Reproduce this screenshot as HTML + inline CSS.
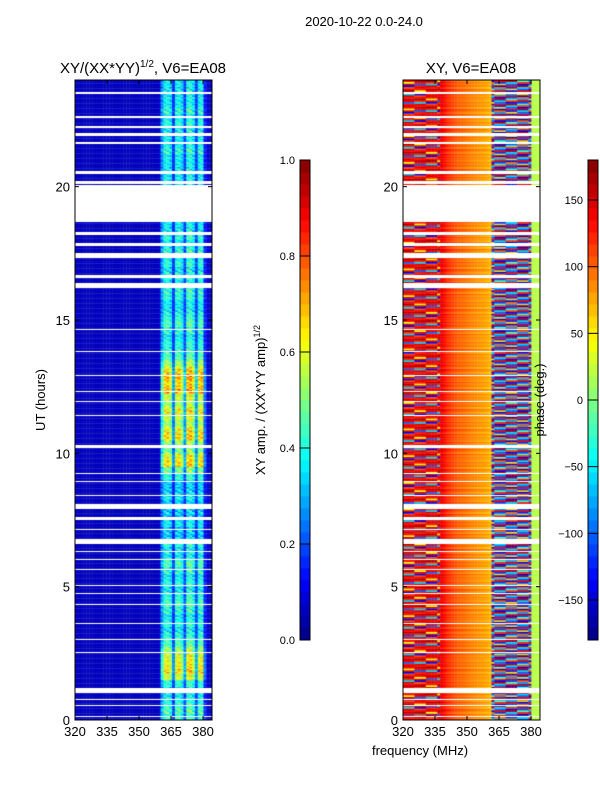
<!DOCTYPE html>
<html><head><meta charset="utf-8"><style>
body{margin:0;background:#fff;width:600px;height:800px;overflow:hidden;font-family:"Liberation Sans",sans-serif}
#wrap{position:relative;width:600px;height:800px}
canvas{position:absolute}
svg{position:absolute;left:0;top:0}
</style></head><body><div id="wrap">
<canvas id="amp" width="137" height="640" style="left:75px;top:80px"></canvas>
<canvas id="phs" width="137" height="640" style="left:403px;top:80px"></canvas>
<canvas id="cb1" width="10" height="480" style="left:300px;top:160px"></canvas>
<canvas id="cb2" width="10" height="480" style="left:588px;top:160px"></canvas>
<svg id="ov" width="600" height="800" font-family="Liberation Sans, sans-serif"></svg>
</div>
<script>
// ---- data ----
const freqMin=320, freqMax=384.2, nChan=48, hourMax=24, nRows=96;
const ampCol=[0.06,0.06,0.06,0.06,0.06,0.06,0.06,0.06,0.06,0.06,0.06,0.06,0.06,0.06,0.06,0.06,0.06,0.06,0.06,0.06,0.06,0.06,0.06,0.06,0.06,0.06,0.06,0.06,0.06,0.07,0.28,0.4,0.42,0.36,0.18,0.4,0.42,0.36,0.2,0.42,0.44,0.38,0.2,0.4,0.42,0.16,0.08,0.06];
// per 15-min row multiplier (96 rows, 0h upward)
const ampRow=[1.0,1.1,1.0,0.9,0.9,1.0,1.4,1.55,1.5,1.45,1.3,1.1,1.0,0.9,1.0,0.9,1.0,1.1,1.0,0.9,1.0,0.9,1.0,1.1,0.9,0.9,1.0,0.8,0.8,0.9,0.8,0.8,0.8,0.9,0.8,0.8,1.0,1.2,1.6,1.5,1.2,1.3,1.6,1.5,1.3,1.4,1.5,1.3,1.4,1.7,1.6,1.7,1.55,1.3,1.1,1.0,1.0,0.9,1.0,1.1,1.0,0.9,0.9,1.0,1.0,0.9,1.0,0.9,1.0,0.9,1.0,0.9,1.0,0.9,0.9,1.0,0.9,1.0,0.9,0.9,0.9,0.9,0.9,0.9,0.9,1.0,0.9,0.9,0.9,1.0,0.9,1.0,0.9,0.9,0.9,0.9];
const rowJitter=[0,0.12,-0.1,0.18,-0.15,0.05,0.22,-0.2,0.1,-0.05,0.15,-0.12];
const phaseCol=[0,0,0,0,0,0,0,0,0,0,0,0,0,140,130,120,115,110,105,100,98,95,92,90,88,85,82,80,78,75,70,0,0,0,0,0,0,0,0,0,0,0,0,0,0,20,20,20];
const phaseLeft=[150,130,-100,140,160,130,150,-60,120,170,140,110,-140,150,40,130];
const phaseRight=[-120,140,-100,-60,160,-140,120,-20,-110,150,-80,100,-150,60];
const flags=[[23.5,23.56],[22.6,22.66],[22.2,22.26],[21.9,22.0],[21.6,21.66],[20.5,20.6],[20.1,20.2],[18.65,20.05],[18.2,18.3],[17.8,17.9],[17.3,17.5],[16.6,16.7],[16.2,16.4],[14.6,14.65],[13.8,13.85],[12.9,12.95],[12.3,12.35],[11.9,11.95],[11.4,11.45],[10.2,10.3],[9.2,9.25],[8.9,8.95],[8.4,8.45],[7.9,8.1],[7.5,7.6],[7.1,7.15],[6.6,6.8],[6.3,6.35],[6.0,6.05],[5.6,5.65],[5.0,5.05],[4.7,4.75],[4.3,4.35],[3.6,3.65],[3.0,3.05],[2.5,2.55],[1.0,1.2],[0.75,0.8],[0.5,0.55],[0.1,0.15]];
const xTicks=[320,335,350,365,380];
const yTicks=[0,5,10,15,20];
const cb1Ticks=[0.0,0.2,0.4,0.6,0.8,1.0];
const cb2Ticks=[-150,-100,-50,0,50,100,150];
// ---- helpers ----
function jet(v){v=Math.max(0,Math.min(1,v));
 const f=(x)=>Math.max(0,Math.min(1,x));
 const r=f(1.5-Math.abs(4*v-3)),g=f(1.5-Math.abs(4*v-2)),b=f(1.5-Math.abs(4*v-1));
 return `rgb(${Math.round(r*255)},${Math.round(g*255)},${Math.round(b*255)})`;}
const W=137,H=640;
const xS=f=>(f-freqMin)/(freqMax-freqMin)*W;
const yS=h=>H-h/hourMax*H;
function draw(id,valFn){const c=document.getElementById(id).getContext('2d');
 const sub=4,df=(freqMax-freqMin)/nChan;
 for(let r=0;r<nRows*sub;r++){const h0=r*hourMax/(nRows*sub),h1=(r+1)*hourMax/(nRows*sub);
  const ri=Math.floor(r/sub);
  for(let ch=0;ch<nChan;ch++){c.fillStyle=valFn(ri,ch,r);
   const x0=xS(freqMin+ch*df),x1=xS(freqMin+(ch+1)*df);
   c.fillRect(x0,yS(h1),x1-x0+0.3,yS(h0)-yS(h1)+0.3);}}
 c.fillStyle='#fff';
 flags.forEach(a=>{const y0=yS(a[1]),y1=yS(a[0]);c.fillRect(0,Math.round(y0),W,Math.max(1,Math.round(y1-y0)));});}
draw('amp',(ri,ch,r)=>{let v=ampCol[ch];if(v>0.1)v=v*(ampRow[ri]+rowJitter[(r+(ch%3))%12]);else v=v+rowJitter[r%12]*0.04;return jet(v);});
draw('phs',(ri,ch,r)=>{let p;
 if(ch<13)p=phaseLeft[(r+(ch>>2)*5)%16];
 else if(ch<31)p=phaseCol[ch]+rowJitter[r%12]*50;
 else if(ch<45)p=phaseRight[(r+(ch>>2)*3)%14];
 else p=phaseCol[ch];
 return jet((p+180)/360);});
function cbar(id,n){const c=document.getElementById(id).getContext('2d');
 for(let i=0;i<n;i++){c.fillStyle=jet((i+0.5)/n);const y0=480-(i+1)*480/n;c.fillRect(0,y0,10,480/n+0.5);}}
cbar('cb1',40);cbar('cb2',40);
// ---- svg overlay ----
const ov=document.getElementById('ov');const NS='http://www.w3.org/2000/svg';
function el(t,a,txt){const e=document.createElementNS(NS,t);for(const k in a)e.setAttribute(k,a[k]);if(txt!==undefined)e.textContent=txt;ov.appendChild(e);return e;}
function panel(x0,name){
 const r=el('rect',{x:x0,y:80,width:W,height:H,fill:'none',stroke:'#000','stroke-width':1});
 
 xTicks.forEach(t=>{const x=x0+xS(t);
  el('line',{x1:x,x2:x,y1:720,y2:716,stroke:'#000'});el('line',{x1:x,x2:x,y1:80,y2:84,stroke:'#000'});
  const tx=el('text',{x:x,y:736,'font-size':13,'text-anchor':'middle'},String(t));
  });
 yTicks.forEach(t=>{const y=80+yS(t);
  el('line',{x1:x0,x2:x0+4,y1:y,y2:y,stroke:'#000'});el('line',{x1:x0+W,x2:x0+W-4,y1:y,y2:y,stroke:'#000'});
  const tx=el('text',{x:x0-5,y:y+5,'font-size':13,'text-anchor':'end'},String(t));
  });}
panel(75,'amp-panel');panel(403,'phase-panel');
function cbTicks(x,ticks,lo,hi,name){
 el('rect',{x:x,y:160,width:10,height:480,fill:'none',stroke:'#000'});
 ticks.forEach(t=>{const y=640-(t-lo)/(hi-lo)*480;
  el('line',{x1:x,x2:x+10,y1:y,y2:y,stroke:'#000','stroke-width':1});
  const lbl=name==='cb1'?t.toFixed(1):String(t).replace('-','\u2212');
  const tx=el('text',{x:x-5,y:y+4,'font-size':11,'text-anchor':'end'},lbl);
  });}
cbTicks(300,cb1Ticks,0,1,'cb1');cbTicks(588,cb2Ticks,-180,180,'cb2');
</script>
<svg width="600" height="800" style="position:absolute;left:0;top:0" font-family="Liberation Sans, sans-serif">
<text x="364" y="26" font-size="13" text-anchor="middle">2020-10-22 0.0-24.0</text>
<text x="143" y="73" font-size="15" text-anchor="middle">XY/(XX*YY)<tspan font-size="10" dy="-6">1/2</tspan><tspan dy="6">, V6=EA08</tspan></text>
<text x="471" y="73" font-size="15" text-anchor="middle">XY, V6=EA08</text>
<text x="420" y="755" font-size="13" text-anchor="middle">frequency (MHz)</text>
<text transform="translate(45,400) rotate(-90)" font-size="13" text-anchor="middle">UT (hours)</text>
<text transform="translate(265,400) rotate(-90)" font-size="13" text-anchor="middle">XY amp. / (XX*YY amp)<tspan font-size="9" dy="-5">1/2</tspan></text>
<text transform="translate(544,400) rotate(-90)" font-size="13" text-anchor="middle">phase (deg.)</text>
</svg>
</body></html>
